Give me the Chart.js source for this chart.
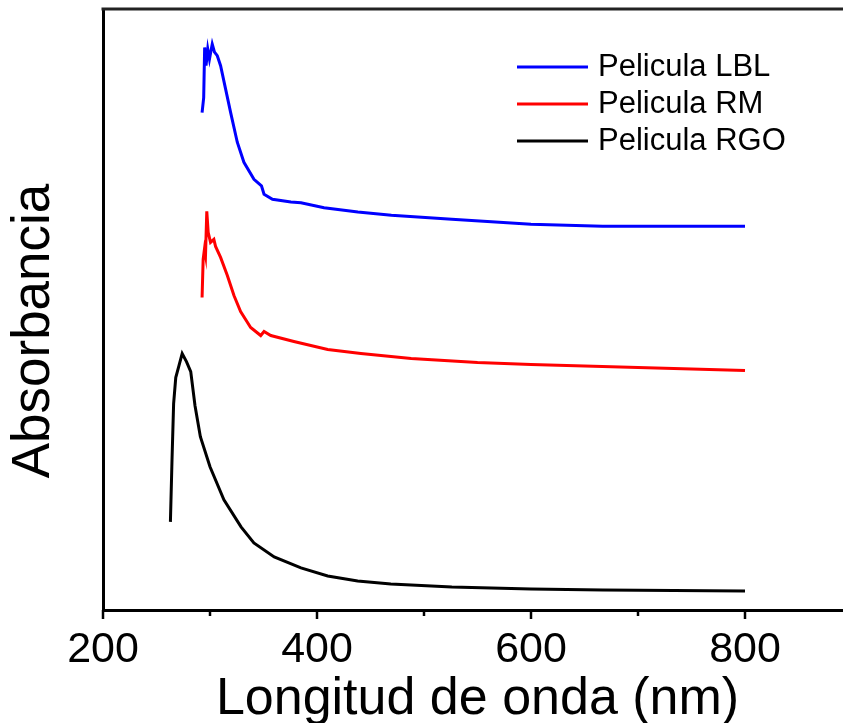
<!DOCTYPE html>
<html>
<head>
<meta charset="utf-8">
<script src="https://cdn.jsdelivr.net/npm/chart.js@4"></script>
<style>
  html, body { margin: 0; padding: 0; background: #fff; overflow: hidden; }
  canvas { display: block; }
</style>
</head>
<body>
<canvas id="grafico" width="866" height="723"></canvas>
<script>
// datos (longitud de onda en nm, absorbancia en u.a.)
const lblX = [292.6, 294.1, 295.0, 296.3, 297.9, 299.5, 302.1, 304.2, 306.8, 309.9, 314.6, 319.2, 325.5, 331.7, 341.1, 348.1, 350.5, 358.4, 375.6, 385, 406.6, 438.2, 469.5, 526, 600, 667, 800];
const lblY = [2.483, 2.558, 2.808, 2.717, 2.80, 2.75, 2.825, 2.785, 2.767, 2.717, 2.60, 2.485, 2.335, 2.235, 2.15, 2.117, 2.075, 2.05, 2.037, 2.033, 2.008, 1.987, 1.97, 1.95, 1.925, 1.915, 1.915];

const rmX = [292.6, 293.6, 294.8, 295.8, 297, 298.3, 300.5, 303.6, 305.2, 309.9, 316.2, 322.4, 328.6, 338, 347.4, 350.5, 356.8, 378.4, 410, 441, 488, 550, 600, 700, 800];
const rmY = [1.56, 1.75, 1.80, 1.77, 1.99, 1.885, 1.835, 1.85, 1.815, 1.76, 1.67, 1.57, 1.49, 1.41, 1.37, 1.39, 1.37, 1.34, 1.30, 1.28, 1.255, 1.235, 1.225, 1.21, 1.195];

const rgoX = [263, 264.5, 266, 268, 271, 274, 278, 282, 286, 291, 300, 313, 329, 341, 360, 385, 410, 438, 469, 526, 600, 667, 800];
const rgoY = [0.44, 0.75, 1.03, 1.16, 1.22, 1.28, 1.24, 1.19, 1.02, 0.865, 0.715, 0.55, 0.415, 0.335, 0.265, 0.21, 0.17, 0.145, 0.13, 0.115, 0.105, 0.1, 0.095];

const etiquetas = ['Pelicula LBL', 'Pelicula RM', 'Pelicula RGO'];
const colores = ['#0000ff', '#ff0000', '#000000'];
const xTicks = [200, 400, 600, 800];

const fuente = 'Arial, "Liberation Sans", sans-serif';

function puntos(xs, ys) {
    return xs.map((x, i) => ({ x: x, y: ys[i] }));
}

// borde superior, marcas menores, titulo Y y leyenda
const decor = {
    id: 'decor',
    afterDraw(chart) {
        const ctx = chart.ctx;
        const a = chart.chartArea;
        const x = chart.scales.x;
        ctx.save();

        ctx.strokeStyle = '#222';
        ctx.lineWidth = 3;
        ctx.beginPath();
        ctx.moveTo(a.left - 1.5, a.top);
        ctx.lineTo(a.right, a.top);
        ctx.stroke();

        ctx.strokeStyle = '#000';
        ctx.lineWidth = 2.5;
        for (let v = 200; v <= 900; v += 100) {
            const px = Math.round(x.getPixelForValue(v));
            const len = xTicks.includes(v) ? 9 : 6;
            ctx.beginPath();
            ctx.moveTo(px, a.bottom);
            ctx.lineTo(px, a.bottom + len);
            ctx.stroke();
        }

        ctx.fillStyle = '#000';
        ctx.font = '53px ' + fuente;
        ctx.textAlign = 'center';
        ctx.textBaseline = 'middle';
        ctx.save();
        ctx.translate(34, 331);
        ctx.rotate(-Math.PI / 2);
        ctx.fillText('Absorbancia', 0, 0);
        ctx.restore();

        // leyenda
        ctx.font = '31px ' + fuente;
        ctx.textAlign = 'left';
        chart.data.datasets.forEach((ds, i) => {
            const y = 67 + i * 37;
            ctx.strokeStyle = ds.borderColor;
            ctx.lineWidth = 3;
            ctx.beginPath();
            ctx.moveTo(517, y);
            ctx.lineTo(588, y);
            ctx.stroke();
            ctx.fillText(ds.label, 598, y);
        });
        ctx.restore();
    }
};

const ctx = document.getElementById('grafico').getContext('2d');
new Chart(ctx, {
    type: 'line',
    data: {
        datasets: [
            { label: etiquetas[0], data: puntos(lblX, lblY), borderColor: colores[0] },
            { label: etiquetas[1], data: puntos(rmX, rmY), borderColor: colores[1] },
            { label: etiquetas[2], data: puntos(rgoX, rgoY), borderColor: colores[2] }
        ]
    },
    options: {
        responsive: false,
        animation: false,
        layout: { padding: { top: 9, right: 0, left: 0, bottom: 0 } },
        elements: {
            line: { borderWidth: 3, tension: 0, fill: false },
            point: { radius: 0 }
        },
        plugins: {
            legend: { display: false },
            tooltip: { enabled: false }
        },
        scales: {
            x: {
                type: 'linear',
                min: 200,
                max: 900,
                grid: { display: false, drawTicks: false },
                border: { display: true, color: '#000', width: 3 },
                ticks: {
                    stepSize: 100,
                    autoSkip: false,
                    maxRotation: 0,
                    padding: 14,
                    color: '#000',
                    font: { family: fuente, size: 43 },
                    callback: v => xTicks.includes(v) ? String(v) : ''
                },
                title: {
                    display: true,
                    text: 'Longitud de onda (nm)',
                    color: '#000',
                    font: { family: fuente, size: 52 },
                    padding: { top: 0, bottom: -8 }
                },
                afterFit: scale => { scale.height = 113; }
            },
            y: {
                min: 0,
                max: 3,
                grid: { display: false, drawTicks: false },
                border: { display: true, color: '#000', width: 3 },
                ticks: { display: false },
                afterFit: scale => { scale.width = 103; }
            }
        }
    },
    plugins: [decor]
});
</script>
</body>
</html>
